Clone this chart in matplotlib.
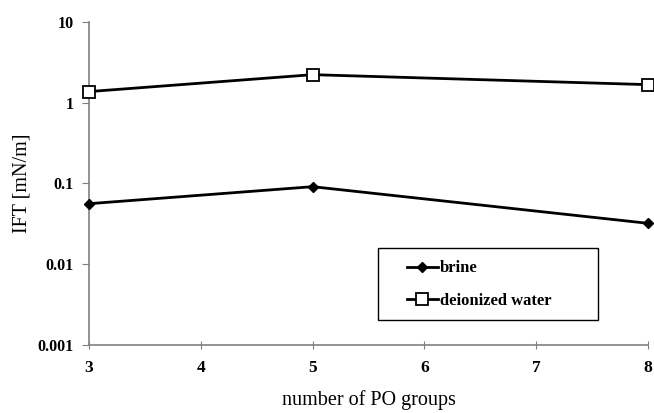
import numpy as np
import matplotlib
matplotlib.use("Agg")
import matplotlib.pyplot as plt
from matplotlib.patches import Rectangle
from matplotlib.ticker import FixedLocator, FixedFormatter, NullLocator

plt.rcParams['font.family'] = ['Liberation Serif', 'DejaVu Serif']

# data
po_groups = [3, 5, 8]
brine = [0.056, 0.091, 0.032]
deionized = [1.37, 2.22, 1.67]
x_ticks = [3, 4, 5, 6, 7, 8]
y_ticks = [0.001, 0.01, 0.1, 1, 10]
y_labels = ['0.001', '0.01', '0.1', '1', '10']

fig = plt.figure(figsize=(6.54, 4.13), dpi=100)
ax = fig.add_axes([0.136, 0.165, 0.855, 0.782])

ax.plot(po_groups, brine, '-', color='black', linewidth=2,
        marker='D', markersize=5.5, markerfacecolor='black', label='brine',
        clip_on=False, zorder=3)
ax.plot(po_groups, deionized, '-', color='black', linewidth=2,
        marker='s', markersize=8, markerfacecolor='white',
        markeredgecolor='black', markeredgewidth=1.3, label='deionized water',
        clip_on=False, zorder=3)

ax.set_yscale('log')
ax.set_ylim(0.001, 10)
ax.set_xlim(3, 8)
ax.yaxis.set_major_locator(FixedLocator(y_ticks))
ax.yaxis.set_major_formatter(FixedFormatter(y_labels))
ax.yaxis.set_minor_locator(NullLocator())
ax.set_xticks(x_ticks)

for s in ['top', 'right']:
    ax.spines[s].set_visible(False)
for s in ['left', 'bottom']:
    ax.spines[s].set_color('#808080')
    ax.spines[s].set_linewidth(1.2)

ax.tick_params(axis='y', direction='out', length=5, color='#808080',
               labelsize=11.5, pad=6)
ax.tick_params(axis='x', direction='inout', length=6, color='#808080',
               labelsize=12.5, pad=8)
for lab in ax.get_xticklabels() + ax.get_yticklabels():
    lab.set_fontweight('bold')

ax.set_xlabel('number of PO groups', fontsize=14.5, labelpad=10)
ax.set_ylabel('IFT [mN/m]', fontsize=14.5, labelpad=4)

# legend box drawn separately so the entries sit inset from its left edge
ax.add_patch(Rectangle((0.517, 0.077), 0.394, 0.223, transform=ax.transAxes,
                       facecolor='white', edgecolor='black', linewidth=1,
                       zorder=4))
leg = ax.legend(loc='center left', bbox_to_anchor=(0.568, 0.186),
                frameon=False, borderaxespad=0, handlelength=1.9,
                handletextpad=0.1, borderpad=0, labelspacing=1.0,
                prop={'weight': 'bold', 'size': 12})
leg.set_zorder(5)

fig.savefig('out.png', dpi=100)
